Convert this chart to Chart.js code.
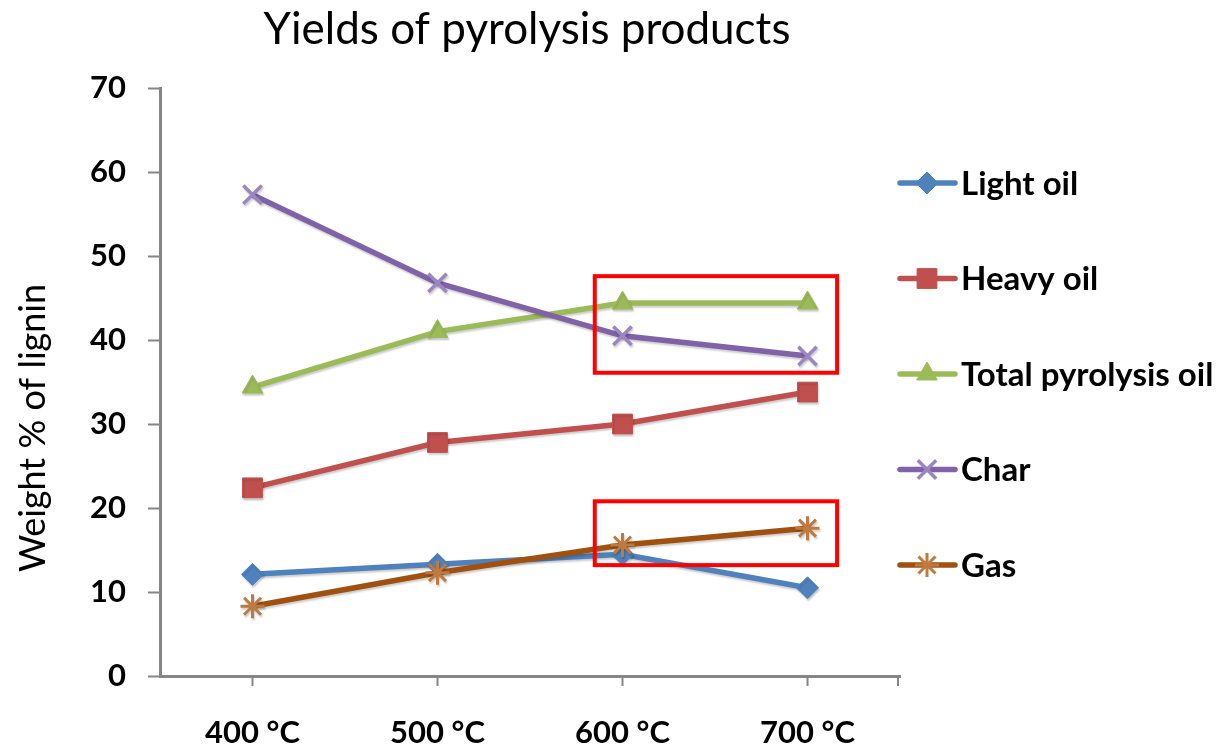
<!DOCTYPE html>
<html>
<head>
<meta charset="utf-8">
<title>Yields of pyrolysis products</title>
<script src="https://cdn.jsdelivr.net/npm/chart.js@4.4.1/dist/chart.umd.min.js"></script>
<style>
    html, body { margin: 0; padding: 0; background: #fff; }
    #wrap { width: 1220px; height: 752px; position: relative; }
</style>
</head>
<body>
<div id="wrap"><canvas id="yieldChart"></canvas></div>
<script>
const categories = ['400 °C', '500 °C', '600 °C', '700 °C'];
const lightOil = [12.1, 13.3, 14.5, 10.5];
const heavyOil = [22.4, 27.8, 30.0, 33.8];
const totalOil = [34.4, 41.0, 44.4, 44.4];
const charYield = [57.3, 46.8, 40.5, 38.1];
const gasYield = [8.3, 12.3, 15.6, 17.6];
const yTicks = [0, 10, 20, 30, 40, 50, 60, 70];

const TITLE = 'Yields of pyrolysis products';
const Y_TITLE = 'Weight % of lignin';

// red highlight boxes, in category index / value units
const highlightBoxes = [
    { from: 1.85, to: 3.16, low: 36.1, high: 47.6 },
    { from: 1.85, to: 3.16, low: 13.2, high: 20.8 }
];

const FONT = 'Lato, "Open Sans", sans-serif';
const AXIS_GREY = '#868686';

const series = [
    { label: 'Light oil', data: lightOil, color: '#4F81BD', marker: '#4F81BD', style: 'rectRot', radius: 11, bw: 1 },
    { label: 'Heavy oil', data: heavyOil, color: '#C0504D', marker: '#C0504D', style: 'rect', radius: 14, bw: 1 },
    { label: 'Total pyrolysis oil', data: totalOil, color: '#9BBB59', marker: '#9BBB59', style: 'triangle', radius: 12, bw: 1 },
    { label: 'Char', data: charYield, color: '#7F62A8', marker: '#9A86C0', style: 'crossRot', radius: 13, bw: 3.5 },
    { label: 'Gas', data: gasYield, color: '#A0500F', marker: '#BE7A40', style: 'star', radius: 12, bw: 3 }
];

const datasets = series.map((s, i) => ({
    label: s.label,
    data: s.data,
    borderColor: s.color,
    backgroundColor: s.marker,
    pointBorderColor: s.marker,
    pointBackgroundColor: s.marker,
    pointStyle: s.style,
    pointRadius: s.radius,
    pointBorderWidth: s.bw,
    borderWidth: 5.5,
    tension: 0,
    fill: false,
    order: series.length - i
}));

const decorations = {
    id: 'decorations',
    beforeDatasetDraw(chart) {
        const ctx = chart.ctx;
        ctx.save();
        ctx.shadowColor = 'rgba(0,0,0,0.2)';
        ctx.shadowOffsetX = 1;
        ctx.shadowOffsetY = 2;
        ctx.shadowBlur = 2;
    },
    afterDatasetDraw(chart) {
        chart.ctx.restore();
    },
    afterDraw(chart) {
        const ctx = chart.ctx;
        const area = chart.chartArea;
        const xs = chart.scales.x;
        const ys = chart.scales.y;

        ctx.save();
        // chart title
        ctx.fillStyle = '#000';
        ctx.textAlign = 'center';
        ctx.textBaseline = 'middle';
        ctx.font = '44px ' + FONT;
        ctx.fillText(TITLE, 527, 30);

        // y axis title
        ctx.save();
        ctx.translate(33, 428);
        ctx.rotate(-Math.PI / 2);
        ctx.font = '36px ' + FONT;
        ctx.fillText(Y_TITLE, 0, 0);
        ctx.restore();

        // closing tick at the right end of the category axis
        ctx.strokeStyle = AXIS_GREY;
        ctx.lineWidth = 2;
        ctx.beginPath();
        ctx.moveTo(xs.right - 2, area.bottom);
        ctx.lineTo(xs.right - 2, area.bottom + 10);
        ctx.stroke();

        // red boxes
        ctx.strokeStyle = '#FF0000';
        ctx.lineWidth = 4;
        highlightBoxes.forEach(b => {
            const x1 = xs.getPixelForValue(b.from);
            const x2 = xs.getPixelForValue(b.to);
            const y1 = ys.getPixelForValue(b.high);
            const y2 = ys.getPixelForValue(b.low);
            ctx.strokeRect(x1, y1, x2 - x1, y2 - y1);
        });

        // legend
        const legendTop = 183;
        const legendGap = 95.5;
        chart.data.datasets.forEach((ds, i) => {
            const ly = legendTop + i * legendGap;
            ctx.strokeStyle = ds.borderColor;
            ctx.lineWidth = 5.5;
            ctx.lineCap = 'round';
            ctx.beginPath();
            ctx.moveTo(900, ly);
            ctx.lineTo(955, ly);
            ctx.stroke();
            ctx.lineCap = 'butt';

            ctx.fillStyle = ds.pointBackgroundColor;
            ctx.strokeStyle = ds.pointBorderColor;
            ctx.lineWidth = ds.pointBorderWidth;
            Chart.helpers.drawPoint(ctx, {
                pointStyle: ds.pointStyle,
                radius: ds.pointRadius,
                rotation: 0,
                borderWidth: ds.pointBorderWidth
            }, 927, ly);

            ctx.fillStyle = '#000';
            ctx.textAlign = 'left';
            ctx.font = 'bold 33px ' + FONT;
            ctx.fillText(ds.label, 961, ly + 1);
        });
        ctx.restore();
    }
};

new Chart(document.getElementById('yieldChart'), {
    type: 'line',
    data: {
        labels: categories,
        datasets: datasets
    },
    options: {
        responsive: true,
        maintainAspectRatio: false,
        animation: false,
        layout: {
            padding: { top: 88, right: 320, bottom: 0, left: 0 }
        },
        scales: {
            x: {
                offset: true,
                grid: {
                    offset: false,
                    drawOnChartArea: false,
                    drawTicks: true,
                    tickLength: 10,
                    tickWidth: 2,
                    tickColor: AXIS_GREY
                },
                border: { color: AXIS_GREY, width: 3 },
                ticks: {
                    color: '#000',
                    padding: 28,
                    maxRotation: 0,
                    font: { family: FONT, size: 31, weight: 'bold' }
                },
                afterFit: s => { s.height = 76; }
            },
            y: {
                min: 0,
                max: 70,
                afterBuildTicks: s => { s.ticks = yTicks.map(v => ({ value: v })); },
                grid: {
                    drawOnChartArea: false,
                    drawTicks: true,
                    tickLength: 12,
                    tickWidth: 2,
                    tickColor: AXIS_GREY
                },
                border: { color: AXIS_GREY, width: 3 },
                ticks: {
                    color: '#000',
                    padding: 22,
                    font: { family: FONT, size: 31, weight: 'bold' }
                },
                afterFit: s => { s.width = 160; }
            }
        },
        plugins: {
            legend: { display: false },
            title: { display: false },
            tooltip: { enabled: false }
        }
    },
    plugins: [decorations]
});
</script>
</body>
</html>
